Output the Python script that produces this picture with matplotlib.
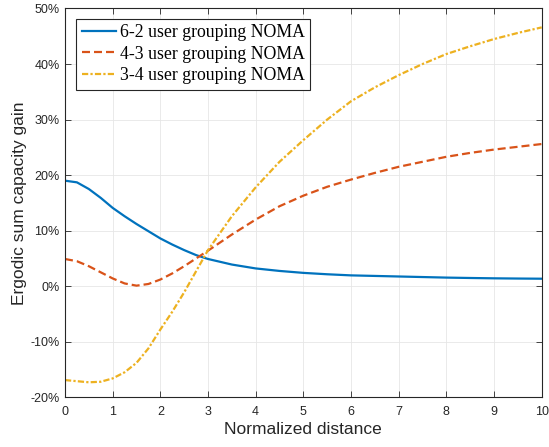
import matplotlib
matplotlib.use('Agg')
import matplotlib.pyplot as plt
from matplotlib.ticker import FuncFormatter

# normalized distance samples
x = [0, 0.25, 0.5, 0.75, 1, 1.25, 1.5, 1.75, 2, 2.25, 2.5, 2.75, 3,
     3.5, 4, 4.5, 5, 5.5, 6, 6.5, 7, 7.5, 8, 8.5, 9, 9.5, 10]

# ergodic sum capacity gain (%)
gain_62 = [19.0, 18.7, 17.5, 15.9, 14.1, 12.6, 11.2, 9.9, 8.6, 7.5, 6.5, 5.6, 4.9,
           3.9, 3.2, 2.75, 2.4, 2.15, 1.95, 1.85, 1.75, 1.65, 1.55, 1.48, 1.42, 1.38, 1.35]
gain_43 = [4.9, 4.5, 3.6, 2.5, 1.4, 0.5, 0.1, 0.4, 1.2, 2.3, 3.6, 5.0, 6.4,
           9.3, 12.0, 14.4, 16.3, 17.9, 19.2, 20.4, 21.5, 22.4, 23.3, 24.0, 24.6, 25.1, 25.6]
gain_34 = [-16.9, -17.1, -17.3, -17.2, -16.6, -15.5, -13.8, -11.2, -7.8, -4.6, -1.1, 2.7, 6.5,
           12.6, 17.8, 22.4, 26.3, 30.0, 33.3, 35.8, 38.0, 40.0, 41.8, 43.2, 44.5, 45.6, 46.6]

labels = ['6-2 user grouping NOMA', '4-3 user grouping NOMA', '3-4 user grouping NOMA']
colors = ['#0072BD', '#D95319', '#EDB120']
xticks = list(range(0, 11))
yticks = list(range(-20, 51, 10))

dark = '#262626'

fig = plt.figure(figsize=(5.49, 4.47), dpi=100)
ax = fig.add_axes([0.1184, 0.1112, 0.8683, 0.8698])

ax.plot(x, gain_62, '-', color=colors[0], linewidth=1.6, label=labels[0])
ax.plot(x, gain_43, '--', color=colors[1], linewidth=1.6, dashes=(3.6, 1.8), label=labels[1])
ax.plot(x, gain_34, '-.', color=colors[2], linewidth=1.6, dashes=(2.8, 1.0, 1.0, 1.0), label=labels[2])

ax.set_xlim(0, 10)
ax.set_ylim(-20, 50)
ax.set_xticks(xticks)
ax.set_yticks(yticks)
ax.yaxis.set_major_formatter(FuncFormatter(lambda v, p: '%d%%' % v))

ax.grid(True, color='#e6e6e6', linewidth=0.6)
ax.set_axisbelow(True)
for s in ax.spines.values():
    s.set_color(dark)
    s.set_linewidth(0.8)
ax.tick_params(direction='in', top=True, right=True, length=4, width=0.6,
               colors=dark, labelsize=9, pad=4)
ax.tick_params(axis='x', pad=6)
for t in ax.get_xticklabels() + ax.get_yticklabels():
    t.set_family('Liberation Sans')

ax.set_xlabel('Normalized distance', fontsize=12.5, family='Liberation Sans', color=dark, labelpad=3)
ax.set_ylabel('Ergodic sum capacity gain', fontsize=12.5, family='Liberation Sans', color=dark, labelpad=2)

leg = ax.legend(loc='upper left', bbox_to_anchor=(0.024, 0.974), fancybox=False,
                edgecolor=dark, framealpha=1, handlelength=1.95, handletextpad=0.2,
                borderpad=0.3, labelspacing=0.26, borderaxespad=0,
                prop={'family': 'Liberation Serif', 'size': 12.8})
leg.get_frame().set_linewidth(0.8)

fig.savefig('out.png', dpi=100)
